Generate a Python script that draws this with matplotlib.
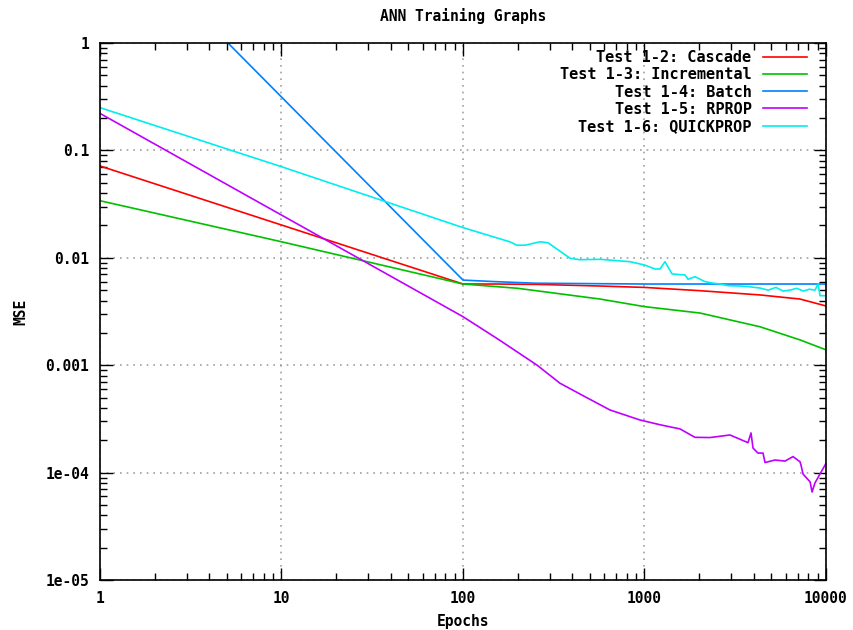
import matplotlib
matplotlib.use('Agg')
import matplotlib.pyplot as plt

# dados (epocas x MSE)
cascade_x = [1, 10, 100, 150, 250, 569, 1000, 2023, 4327, 7194, 10000]
cascade_y = [0.0716, 0.0202, 0.0057, 0.0057, 0.00566, 0.00546, 0.0053, 0.00494, 0.00451, 0.00413, 0.00356]

incremental_x = [1, 10, 100, 200, 569, 1000, 2023, 4327, 7194, 10000]
incremental_y = [0.034, 0.0141, 0.0057, 0.0052, 0.00413, 0.00351, 0.00306, 0.00228, 0.00172, 0.00139]

batch_x = [1, 5.07, 100, 150, 250, 1000, 10000]
batch_y = [15.8, 1.0, 0.0062, 0.0060, 0.0058, 0.0057, 0.0057]

rprop_x = [1, 10, 100, 160, 256, 342, 470, 645, 944, 1217, 1570, 1897, 2296, 2957, 3717,
           3862, 3963, 4220, 4497, 4614, 5237, 5944, 6579, 7194, 7278, 7470, 8170, 8380,
           8690, 10000]
rprop_y = [0.221, 0.025, 0.00283, 0.0017, 0.001, 6.8e-4, 5.09e-4, 3.83e-4, 3.09e-4, 2.79e-4,
           2.55e-4, 2.13e-4, 2.12e-4, 2.24e-4, 1.90e-4, 2.34e-4, 1.69e-4, 1.52e-4, 1.52e-4,
           1.24e-4, 1.31e-4, 1.28e-4, 1.41e-4, 1.26e-4, 1.18e-4, 9.7e-5, 8.2e-5, 6.6e-5,
           8.0e-5, 1.22e-4]

quickprop_x = [1, 10, 100, 181, 198, 220, 266, 294, 389, 441, 569, 832, 1000, 1143, 1217,
               1297, 1419, 1672, 1738, 1897, 2153, 2400, 2606, 2900, 3357, 3700, 4327, 4800,
               5300, 5800, 6335, 6900, 7500, 8100, 8690, 9040, 9270, 10000]
quickprop_y = [0.25, 0.0705, 0.0191, 0.0141, 0.0131, 0.0131, 0.0141, 0.0138, 0.0099, 0.0096,
               0.00968, 0.0092, 0.00857, 0.00787, 0.00787, 0.0092, 0.00707, 0.00692, 0.00631,
               0.00667, 0.0060, 0.0058, 0.0057, 0.0055, 0.00546, 0.0054, 0.00523, 0.0050,
               0.0053, 0.0049, 0.0050, 0.0052, 0.0049, 0.0051, 0.0050, 0.0057, 0.00444, 0.00444]

x_ticks = [1, 10, 100, 1000, 10000]
x_labels = ['1', '10', '100', '1000', '10000']
y_ticks = [1e-5, 1e-4, 1e-3, 1e-2, 1e-1, 1]
y_labels = ['1e-05', '1e-04', '0.001', '0.01', '0.1', '1']

plt.rcParams['font.family'] = ['DejaVu Sans Mono']
plt.rcParams['font.weight'] = 'bold'

fig = plt.figure(figsize=(8.54, 6.30), dpi=100)
ax = fig.add_axes([100 / 854, 1 - 580 / 630, 726 / 854, 537 / 630])

ax.plot(cascade_x, cascade_y, color='#ff0000', lw=1.2, label='Test 1-2: Cascade')
ax.plot(incremental_x, incremental_y, color='#00c000', lw=1.2, label='Test 1-3: Incremental')
ax.plot(batch_x, batch_y, color='#0080ff', lw=1.2, label='Test 1-4: Batch')
ax.plot(rprop_x, rprop_y, color='#c000ff', lw=1.2, label='Test 1-5: RPROP')
ax.plot(quickprop_x, quickprop_y, color='#00eeee', lw=1.2, label='Test 1-6: QUICKPROP')

ax.set_xscale('log')
ax.set_yscale('log')
ax.set_xlim(1, 10000)
ax.set_ylim(1e-5, 1)
ax.set_xticks(x_ticks, x_labels)
ax.set_yticks(y_ticks, y_labels)

ax.tick_params(which='both', direction='in', top=True, right=True, labelsize=10.5)
ax.tick_params(which='major', length=9, width=1, pad=8)
ax.tick_params(which='minor', length=5, width=1)
ax.grid(True, which='major', color='#a0a0a0', linestyle=(0, (1, 3)), linewidth=1.2)
for s in ax.spines.values():
    s.set_linewidth(1.2)

ax.set_title('ANN Training Graphs', fontsize=10.5, fontweight='bold', pad=16)
ax.set_xlabel('Epochs', fontsize=10.5, fontweight='bold', labelpad=6)
ax.set_ylabel('MSE', fontsize=10.5, fontweight='bold', labelpad=12)

ax.legend(loc='upper right', bbox_to_anchor=(0.993, 1.012), frameon=False, markerfirst=False,
          fontsize=11, handlelength=2.9, handletextpad=0.75, labelspacing=0.14,
          alignment='right')

fig.savefig('out.png', dpi=100)
